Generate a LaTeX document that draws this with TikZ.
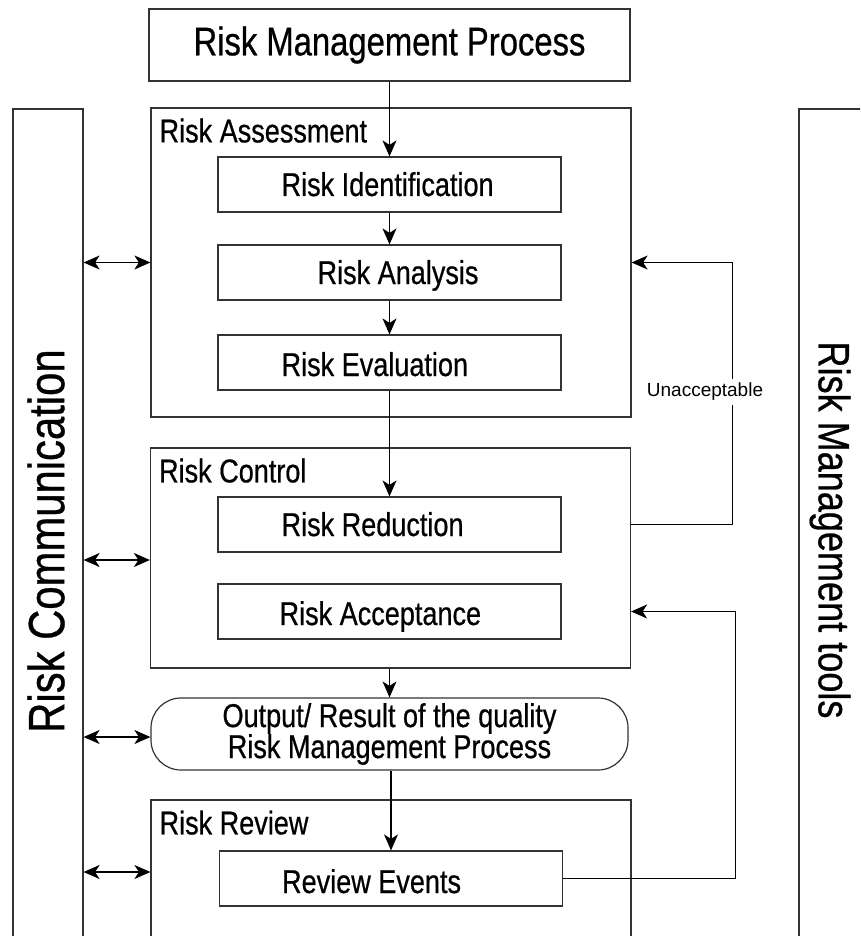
\documentclass[tikz,border=0pt]{standalone}
\usepackage{fontspec}
\setmainfont{Liberation Sans}
\newfontfamily\condfont[FakeStretch=0.82,FakeBold=0.6]{Liberation Sans}
\usetikzlibrary{arrows.meta}
\tikzset{
  frame/.style={draw=black!80, line width=1.2pt, inner sep=0pt},
  procbox/.style={frame, minimum width=343pt, minimum height=55pt},
  groupbox/.style={frame, minimum width=480pt},
  colbox/.style={frame, minimum width=70pt, minimum height=851pt},
  boxtext/.style={anchor=west, inner sep=0pt, text height=23pt, text depth=0pt, font=\condfont\fontsize{33}{33}\selectfont},
  grouptext/.style={anchor=base west, inner sep=0pt, font=\condfont\fontsize{33}{33}\selectfont},
  flow/.style={draw=black, line width=1.2pt, -{Stealth[length=16pt,width=14pt,inset=4.5pt]}},
  biflow/.style={draw=black, line width=1.2pt, {Stealth[length=16pt,width=14pt,inset=4.5pt]}-{Stealth[length=16pt,width=14pt,inset=4.5pt]}},
}
\begin{document}
\begin{tikzpicture}[x=1pt,y=-1pt]
  \useasboundingbox (0,0) rectangle (860,936);
  \clip (0,0) rectangle (860,936);
  % side columns
  \node[colbox] (commcol) at (48,534.5) {};
  \node[colbox] (toolcol) at (834,534.5) {};
  \node[rotate=90, font=\condfont\fontsize{51}{51}\selectfont] (commtext) at (46,541) {Risk Communication};
  \node[rotate=-90, font=\condfont\fontsize{44}{44}\selectfont] (tooltext) at (830,530) {Risk Management tools};
  % title
  \node[frame, minimum width=481pt, minimum height=72pt, font=\condfont\fontsize{40}{40}\selectfont] (title) at (389.5,45) {Risk Management Process};
  % assessment
  \node[groupbox, minimum height=309pt] (assess) at (391,262.5) {};
  \node[grouptext] (assesstext) at ([xshift=9pt,yshift=-35pt]assess.north west) {Risk Assessment};
  \node[procbox] (ident) at (389.5,184.5) {};
  \node[procbox] (analysis) at (389.5,272.5) {};
  \node[procbox] (evalu) at (389.5,362.5) {};
  \node[boxtext] (identtext) at ([xshift=64pt]ident.west) {Risk Identification};
  \node[boxtext] (analysistext) at ([xshift=100pt]analysis.west) {Risk Analysis};
  \node[boxtext] (evalutext) at ([xshift=64pt,yshift=-2pt]evalu.west) {Risk Evaluation};
  % control
  \node[groupbox, minimum height=220pt] (control) at (390.5,558) {};
  \node[grouptext] (controltext) at ([xshift=9pt,yshift=-35pt]control.north west) {Risk Control};
  \node[procbox] (reduce) at (389.5,524.5) {};
  \node[procbox] (accept) at (389.5,611.5) {};
  \node[boxtext] (reducetext) at ([xshift=64pt]reduce.west) {Risk Reduction};
  \node[boxtext] (accepttext) at ([xshift=62pt,yshift=-2pt]accept.west) {Risk Acceptance};
  % output
  \node[frame, rounded corners=30pt, minimum width=477pt, minimum height=72pt, align=center, font=\condfont\fontsize{33}{31}\selectfont] (output) at (389.5,734) {Output/ Result of the quality\\Risk Management Process};
  % review
  \node[groupbox, minimum height=144pt] (review) at (391,872) {};
  \node[grouptext] (reviewtext) at ([xshift=9pt,yshift=-35pt]review.north west) {Risk Review};
  \node[procbox] (events) at (391,878.5) {};
  \node[boxtext] (eventstext) at ([xshift=63pt,yshift=-3pt]events.west) {Review Events};
  % main flow
  \draw[flow] (title.south -| ident.north) -- (ident.north);
  \draw[flow] (ident) -- (analysis);
  \draw[flow] (analysis) -- (evalu);
  \draw[flow] (evalu) -- (reduce);
  \draw[flow] (control.south -| output.north) -- (output.north);
  \draw[flow] (output.south -| events.north) -- (events.north);
  % communication links
  \draw[biflow] (assess.west -| commcol.east) -- (assess.west);
  \draw[biflow] ([yshift=-2pt]control.west -| commcol.east) -- ([yshift=-2pt]control.west);
  \draw[biflow] ([yshift=-3pt]output.west -| commcol.east) -- ([yshift=-3pt]output.west);
  \draw[biflow] (review.west -| commcol.east) -- (review.west);
  % feedback loops
  \draw[flow] (control.east |- reduce.east) -| ([xshift=101pt]assess.east) -- (assess.east);
  \node[fill=white, inner sep=4pt, font=\fontsize{19}{19}\selectfont] (unacc) at (705,392) {Unacceptable};
  \draw[flow] (events.east) -| ([xshift=104pt]control.east |- accept.east) -- (control.east |- accept.east);
\end{tikzpicture}
\end{document}
